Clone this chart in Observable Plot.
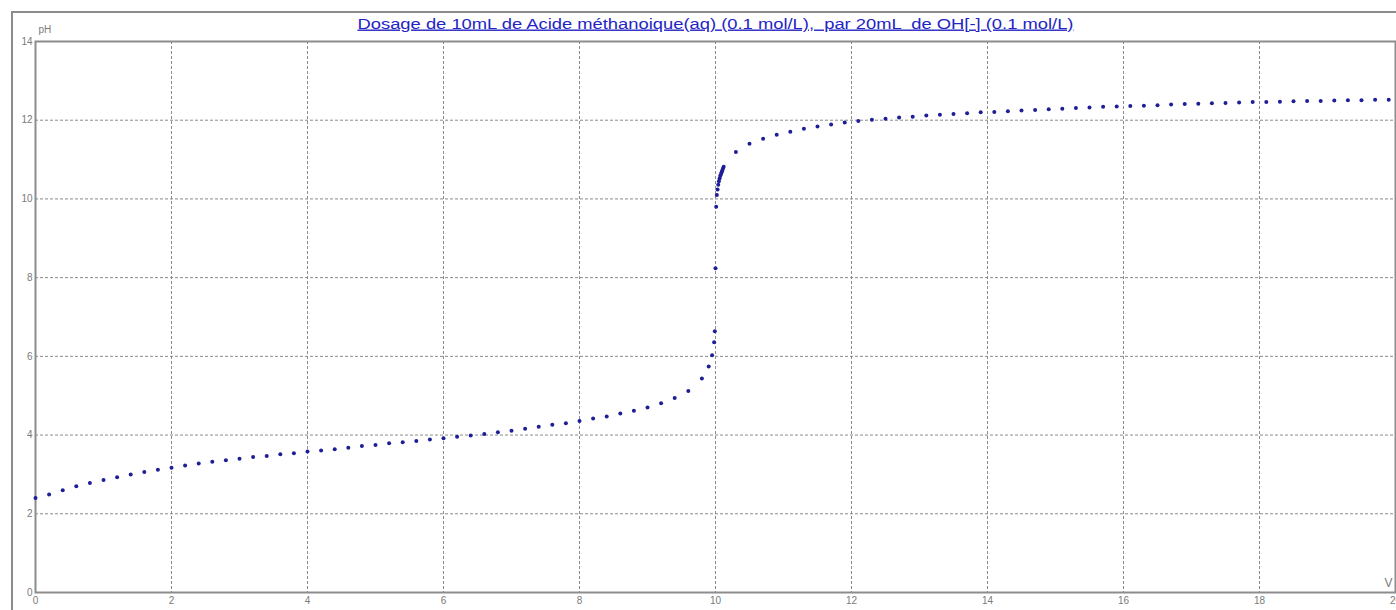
<!DOCTYPE html>
<html><head><meta charset="utf-8">
<script src="https://cdn.jsdelivr.net/npm/d3@7"></script>
<script src="https://cdn.jsdelivr.net/npm/@observablehq/plot@0.6"></script>
<style>
body{margin:0;background:#fff;}
#wrap{position:relative;width:1396px;height:610px;overflow:hidden;}
#border{position:absolute;left:11px;top:11px;right:-5px;bottom:-5px;border-left:2px solid #8c8c8c;border-top:2px solid #8c8c8c;pointer-events:none;z-index:2;}
</style></head><body><div id="wrap"><div id="border"></div></div>
<script>
const titleText = "Dosage de 10mL de Acide méthanoique(aq) (0.1 mol/L),  par 20mL  de OH[-] (0.1 mol/L)";
const xLabel = "V";
const yLabel = "pH";
const xTicks = [0, 2, 4, 6, 8, 10, 12, 14, 16, 18, 20];
const yTicks = [0, 2, 4, 6, 8, 10, 12, 14];

// before equivalence
const volumeAcid = [0, 0.2, 0.4, 0.6, 0.8, 1.0, 1.2, 1.4, 1.6, 1.8,
  2.0, 2.2, 2.4, 2.6, 2.8, 3.0, 3.2, 3.4, 3.6, 3.8,
  4.0, 4.2, 4.4, 4.6, 4.8, 5.0, 5.2, 5.4, 5.6, 5.8,
  6.0, 6.2, 6.4, 6.6, 6.8, 7.0, 7.2, 7.4, 7.6, 7.8,
  8.0, 8.2, 8.4, 8.6, 8.8, 9.0, 9.2, 9.4, 9.6, 9.8];
const pHAcid = [2.40, 2.49, 2.60, 2.70, 2.78, 2.86, 2.93, 3.00, 3.06, 3.12,
  3.17, 3.23, 3.28, 3.32, 3.36, 3.40, 3.44, 3.47, 3.51, 3.54,
  3.58, 3.61, 3.64, 3.68, 3.72, 3.75, 3.79, 3.82, 3.85, 3.89,
  3.92, 3.96, 3.99, 4.03, 4.07, 4.11, 4.16, 4.21, 4.26, 4.30,
  4.36, 4.42, 4.47, 4.55, 4.62, 4.70, 4.81, 4.94, 5.12, 5.44];

// around equivalence
const volumeEq = [9.9, 9.95, 9.98, 9.99, 10.0, 10.01, 10.02, 10.03, 10.04, 10.05,
  10.06, 10.07, 10.08, 10.09, 10.10, 10.11, 10.12];
const pHEq = [5.74, 6.03, 6.36, 6.64, 8.24, 9.80, 10.10, 10.24, 10.36, 10.45,
  10.52, 10.58, 10.63, 10.68, 10.72, 10.77, 10.82];

// after equivalence
const volumeBase = [10.3, 10.5, 10.7, 10.9, 11.1, 11.3, 11.5, 11.7, 11.9,
  12.1, 12.3, 12.5, 12.7, 12.9, 13.1, 13.3, 13.5, 13.7, 13.9,
  14.1, 14.3, 14.5, 14.7, 14.9, 15.1, 15.3, 15.5, 15.7, 15.9,
  16.1, 16.3, 16.5, 16.7, 16.9, 17.1, 17.3, 17.5, 17.7, 17.9,
  18.1, 18.3, 18.5, 18.7, 18.9, 19.1, 19.3, 19.5, 19.7, 19.9];
const pHBase = [11.19, 11.40, 11.53, 11.63, 11.71, 11.78, 11.84, 11.89, 11.94,
  11.98, 12.01, 12.04, 12.07, 12.09, 12.12, 12.14, 12.16, 12.18, 12.20,
  12.21, 12.23, 12.25, 12.26, 12.28, 12.29, 12.31, 12.32, 12.34, 12.35,
  12.36, 12.37, 12.38, 12.40, 12.41, 12.42, 12.43, 12.44, 12.45, 12.46,
  12.46, 12.47, 12.48, 12.49, 12.49, 12.50, 12.51, 12.51, 12.52, 12.52];

const volumes = [...volumeAcid, ...volumeEq, ...volumeBase];
const pHs = [...pHAcid, ...pHEq, ...pHBase];
const points = volumes.map((v, i) => ({V: v, pH: pHs[i]}));

const gridColor = "#8a8a8a";
const tickColor = "#7a7a7a";

const chart = Plot.plot({
  width: 1396,
  height: 610,
  marginLeft: 35,
  marginRight: 1,
  marginTop: 41,
  marginBottom: 18,
  style: {fontFamily: "'Liberation Sans', Arial, sans-serif", background: "transparent"},
  x: {domain: [0, 20]},
  y: {domain: [0, 14]},
  marks: [
    Plot.gridX(xTicks, {stroke: gridColor, strokeOpacity: 1, strokeDasharray: "3,2", strokeWidth: 1}),
    Plot.gridY(yTicks, {stroke: gridColor, strokeOpacity: 1, strokeDasharray: "3,2", strokeWidth: 1}),
    Plot.frame({stroke: "#8c8c8c", strokeWidth: 2}),
    Plot.axisX(xTicks, {tickSize: 0, tickPadding: 4, fontSize: 10, fill: tickColor, label: null}),
    Plot.axisY(yTicks, {tickSize: 0, tickPadding: 3, fontSize: 10, fill: tickColor, label: null}),
    Plot.dot(points, {x: "V", y: "pH", r: 2, fill: "#1e1e96", stroke: null}),
    Plot.text([yLabel], {frameAnchor: "top-left", dx: 3, dy: -9, textAnchor: "start", lineAnchor: "bottom", fontSize: 10, fill: tickColor}),
    Plot.text([xLabel], {frameAnchor: "bottom-right", dx: -3, dy: -6, textAnchor: "end", lineAnchor: "bottom", fontSize: 12, fill: tickColor}),
    Plot.text([titleText], {frameAnchor: "top", dy: -13, lineAnchor: "bottom", fontSize: 14, fill: "#2424c4", className: "chart-title"})
  ]
});
d3.select(chart).selectAll(".chart-title text")
  .attr("text-decoration", "underline")
  .attr("textLength", 716)
  .attr("lengthAdjust", "spacingAndGlyphs");
document.getElementById("wrap").appendChild(chart);
</script>
</body></html>
